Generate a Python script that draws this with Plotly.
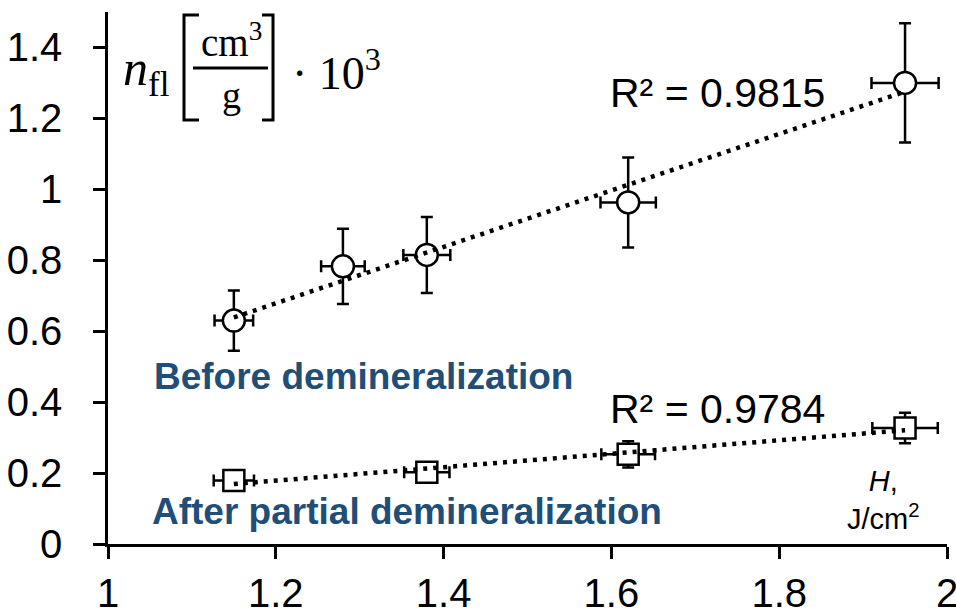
import numpy as np
import plotly.graph_objects as go

# Fluence H (J/cm^2) and n_fl values (x10^3 cm^3/g)
h_before = [1.15, 1.28, 1.38, 1.62, 1.95]
n_before = [0.630, 0.783, 0.815, 0.963, 1.300]
h_before_err = [0.023, 0.026, 0.028, 0.033, 0.040]
n_before_err = [0.085, 0.106, 0.107, 0.127, 0.168]

h_after = [1.15, 1.38, 1.62, 1.95]
n_after = [0.179, 0.202, 0.253, 0.327]
h_after_err = [0.024, 0.027, 0.032, 0.039]
n_after_err = [0.020, 0.020, 0.037, 0.043]

r2_before = "0.9815"
r2_after = "0.9784"

x_ticks = [1, 1.2, 1.4, 1.6, 1.8, 2]
y_ticks = [0, 0.2, 0.4, 0.6, 0.8, 1, 1.2, 1.4]

W, H = 956, 610
ML, MR, MT, MB = 108, 9, 12, 66
PW, PH = W - ML - MR, H - MT - MB

SANS = "Liberation Sans, Arial, sans-serif"
SERIF = "Liberation Serif, Times New Roman, serif"
BLUE = "#1F4E79"


def paper(xp, yp):
    """Pixel offsets in the figure -> paper coordinates."""
    return (xp - ML) / PW, (H - MB - yp) / PH


fig = go.Figure()

err_style = dict(color="black", thickness=2.5, width=6)

fig.add_trace(go.Scatter(
    x=h_before, y=n_before, mode="markers",
    marker=dict(symbol="circle", size=22, color="white",
                line=dict(color="black", width=2.5)),
    error_y=dict(type="data", array=n_before_err, **err_style),
    error_x=dict(type="data", array=h_before_err, **err_style),
    showlegend=False, hoverinfo="x+y",
))
fig.add_trace(go.Scatter(
    x=h_after, y=n_after, mode="markers",
    marker=dict(symbol="square", size=21, color="white",
                line=dict(color="black", width=2.5)),
    error_y=dict(type="data", array=n_after_err, **err_style),
    error_x=dict(type="data", array=h_after_err, **err_style),
    showlegend=False, hoverinfo="x+y",
))

# Linear trend lines (least squares), drawn over the markers
for xs, ys in ((h_before, n_before), (h_after, n_after)):
    k, b = np.polyfit(xs, ys, 1)
    xl = np.array([min(xs), max(xs)])
    fig.add_trace(go.Scatter(
        x=xl, y=k * xl + b, mode="lines",
        line=dict(color="black", width=4.5, dash="4px,6px"),
        showlegend=False, hoverinfo="skip",
    ))

annotations = [
    dict(x=1.727, y=1.271, xref="x", yref="y", text=f"R² = {r2_before}",
         font=dict(family=SANS, size=41, color="black"),
         xanchor="center", yanchor="middle"),
    dict(x=1.726, y=0.380, xref="x", yref="y", text=f"R² = {r2_after}",
         font=dict(family=SANS, size=41, color="black"),
         xanchor="center", yanchor="middle"),
    dict(x=1.305, y=0.473, xref="x", yref="y", text="<b>Before demineralization</b>",
         font=dict(family=SANS, size=37, color=BLUE),
         xanchor="center", yanchor="middle"),
    dict(x=1.356, y=0.093, xref="x", yref="y", text="<b>After partial demineralization</b>",
         font=dict(family=SANS, size=37, color=BLUE),
         xanchor="center", yanchor="middle"),
    dict(x=1.924, y=0.125, xref="x", yref="y", text="<i>H</i>,<br>J/cm<sup>2</sup>",
         font=dict(family=SANS, size=29, color="black"),
         xanchor="center", yanchor="middle", align="center"),
]

# Axis quantity: n_fl [cm^3 / g] · 10^3
def label(xp, yp, text, size, xanchor="left"):
    px_, py_ = paper(xp, yp)
    return dict(x=px_, y=py_, xref="paper", yref="paper", text=text,
                showarrow=False, xanchor=xanchor, yanchor="middle",
                font=dict(family=SERIF, size=size, color="black"))

annotations += [
    label(121, 72, "<i>n</i><sub>fl</sub>", 50),
    label(231, 40, "cm<sup>3</sup>", 39, "center"),
    label(231, 95, "g", 38, "center"),
    label(290, 70, "· 10<sup>3</sup>", 46),
]
for a in annotations:
    a.setdefault("showarrow", False)

shapes = []
def seg_path(points):
    pts = [paper(*p) for p in points]
    return "M " + " L ".join(f"{x},{y}" for x, y in pts)

for pts in (
    [(199, 15), (184, 15), (184, 120), (199, 120)],
    [(262, 15), (273, 15), (273, 120), (262, 120)],
    [(193, 68), (268, 68)],
):
    shapes.append(dict(type="path", xref="paper", yref="paper",
                       path=seg_path(pts), line=dict(color="black", width=3)))

axis_common = dict(
    showline=True, linecolor="black", linewidth=2.5,
    ticks="outside", ticklen=12, tickwidth=2.5, tickcolor="black",
    showgrid=False, zeroline=False, ticklabeloverflow="allow",
    tickfont=dict(family=SANS, size=40, color="black"),
)

fig.update_layout(
    width=W, height=H,
    margin=dict(l=ML, r=MR, t=MT, b=MB, autoexpand=False),
    paper_bgcolor="white", plot_bgcolor="white",
    xaxis=dict(range=[1, 2], tickvals=x_ticks, ticklabelstandoff=0, **axis_common),
    yaxis=dict(range=[0, 1.5], tickvals=y_ticks, ticklabelstandoff=23, **axis_common),
    annotations=annotations,
    shapes=shapes,
    showlegend=False,
)

fig.write_html("out.html")
